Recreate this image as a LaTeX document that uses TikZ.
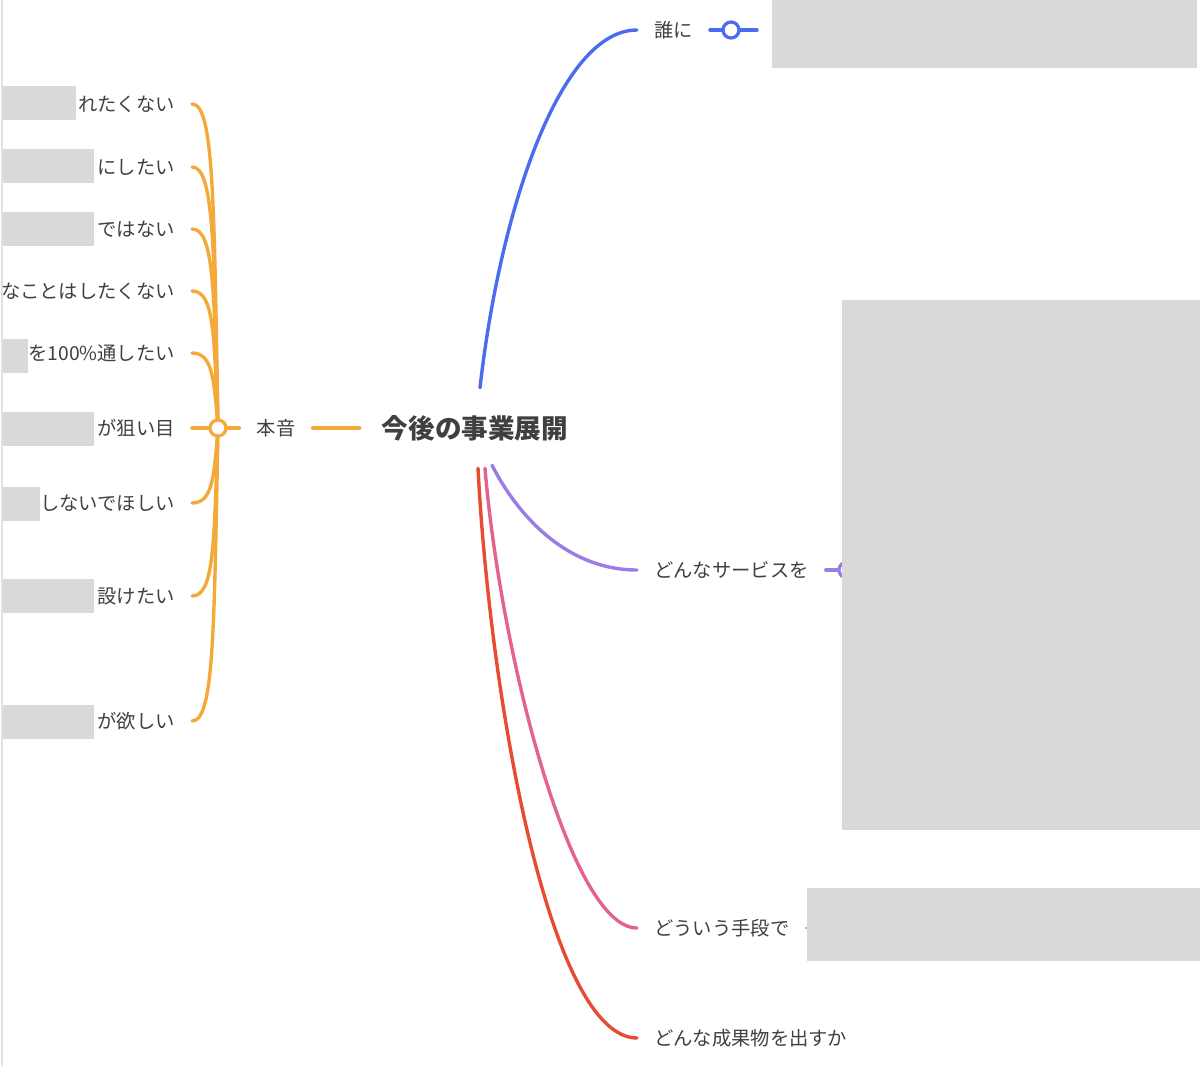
\documentclass[tikz,border=0pt]{standalone}
\usepackage{fontspec}
\setmainfont{Noto Sans CJK JP}
\usepackage{tikz}
\usetikzlibrary{positioning, calc}

\definecolor{txtgray}{HTML}{404040}
\definecolor{maskgray}{HTML}{D9D9D9}
\definecolor{edgegray}{HTML}{E2E2E2}
\definecolor{honneorange}{HTML}{F4AA3A}
\definecolor{whoblue}{HTML}{4B6CEF}
\definecolor{svcpurple}{HTML}{9C7BE6}
\definecolor{meanspink}{HTML}{E4628F}
\definecolor{resultred}{HTML}{E74B33}

\begin{document}
\begin{tikzpicture}[
    x=1pt, y=-1pt,
    leaf/.style={inner xsep=17pt, inner ysep=0pt, text=txtgray, font=\fontsize{19.3}{22}\selectfont},
    rootnode/.style={inner xsep=22pt, inner ysep=0pt, minimum height=80pt, text=txtgray, font=\bfseries\fontsize{26.6}{30}\selectfont},
    hub/.style={circle, draw, fill=white, line width=3.2pt, minimum size=16pt, inner sep=0pt},
    branch/.style={line width=3.4pt, line cap=round}
]
\useasboundingbox (0,0) rectangle (1200,1066);
\draw[edgegray, line width=1.5pt] (2,0) -- (2,1066);

% root
\node[rootnode](root) at (475,428){今後の事業展開};

% right side
\node[leaf, anchor=west](who) at (637,30){誰に};
\node[leaf, anchor=west](svc) at (637,570){どんなサービスを};
\node[leaf, anchor=west](means) at (637,928){どういう手段で};
\node[leaf, anchor=west](result) at (637,1038){どんな成果物を出すか};

\coordinate (bS) at ([xshift=5pt]root.north);
\coordinate (vS) at ([xshift=17pt, yshift=3pt]root.south);
\coordinate (pS) at ([xshift=10pt]root.south);
\coordinate (rS) at ([xshift=3pt]root.south);

\draw[branch, whoblue] (bS) .. controls (500,210) and (560,30) .. (who.west);
\draw[branch, svcpurple] (vS) .. controls (520,520) and (570,570) .. (svc.west);
\draw[branch, meanspink] (pS) .. controls (500,650) and (570,928) .. (means.west);
\draw[branch, resultred] (rS) .. controls (490,700) and (550,1038) .. (result.west);

\coordinate (wc) at (731,30);
\coordinate (wEnd) at (757,30);
\draw[branch, whoblue] (who.east) -- (wc) -- (wEnd);
\node[hub, draw=whoblue](wcirc) at (wc){};

\coordinate (vc) at (847,570);
\draw[branch, svcpurple] (svc.east) -- (vc);
\node[hub, draw=svcpurple](vcirc) at (vc){};

\coordinate (pStub) at (805,928);
\coordinate (pEnd) at (812,928);
\draw[line width=2pt, meanspink!60] (pStub) -- (pEnd);

% left side
\node[leaf](honne) at (276,428){本音};
\draw[branch, honneorange] (honne.east) -- (root.west);

\node[leaf, anchor=east](h1) at (192,104){れたくない};
\node[leaf, anchor=east](h2) at (192,167){にしたい};
\node[leaf, anchor=east](h3) at (192,229){ではない};
\node[leaf, anchor=east](h4) at (192,291){なことはしたくない};
\node[leaf, anchor=east](h5) at (192,353){を100\%通したい};
\node[leaf, anchor=east](h6) at (192,428){が狙い目};
\node[leaf, anchor=east](h7) at (192,503){しないでほしい};
\node[leaf, anchor=east](h8) at (192,596){設けたい};
\node[leaf, anchor=east](h9) at (192,721){が欲しい};

\coordinate (hc) at (218,428);
\draw[branch, honneorange] (h1.east) .. controls (214,104) and (214,201) .. (hc);
\draw[branch, honneorange] (h2.east) .. controls (214,167) and (214,245) .. (hc);
\draw[branch, honneorange] (h3.east) .. controls (214,229) and (214,289) .. (hc);
\draw[branch, honneorange] (h4.east) .. controls (214,291) and (214,332) .. (hc);
\draw[branch, honneorange] (h5.east) .. controls (213,353) and (214,380) .. (hc);
\draw[branch, honneorange] (h6.east) -- (hc);
\draw[branch, honneorange] (h7.east) .. controls (213,503) and (214,476) .. (hc);
\draw[branch, honneorange] (h8.east) .. controls (214,596) and (214,546) .. (hc);
\draw[branch, honneorange] (h9.east) .. controls (214,721) and (214,633) .. (hc);
\node[hub, draw=honneorange](hcirc) at (hc){};
\draw[branch, honneorange] (hcirc) -- (honne.west);

% masked areas
\fill[maskgray] (772,0) rectangle (1197,68);
\fill[maskgray] (842,300) rectangle (1200,830);
\fill[maskgray] (807,888) rectangle (1200,961);
\fill[maskgray] (3,86) rectangle (76,120);
\fill[maskgray] (3,149) rectangle (94,183);
\fill[maskgray] (3,212) rectangle (94,246);
\fill[maskgray] (3,339) rectangle (28,373);
\fill[maskgray] (3,412) rectangle (94,446);
\fill[maskgray] (3,487) rectangle (40,521);
\fill[maskgray] (3,579) rectangle (94,613);
\fill[maskgray] (3,705) rectangle (94,739);
\end{tikzpicture}
\end{document}
